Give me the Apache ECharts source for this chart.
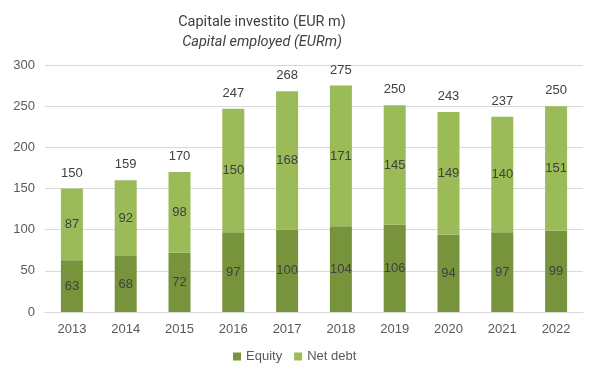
<!DOCTYPE html>
<html><head><meta charset="utf-8">
<script src="https://cdn.jsdelivr.net/npm/echarts@6/dist/echarts.min.js"></script>
<style>html,body{margin:0;padding:0;background:#fff}#c{width:598px;height:378px}</style>
</head><body><div id="c"></div>
<script>
var years = ['2013','2014','2015','2016','2017','2018','2019','2020','2021','2022'];
var equity = [63,68,72,97,100,104,106,94,97,99];
var netDebt = [87,92,98,150,168,171,145,149,140,151];
var totals = [150,159,170,247,268,275,250,243,237,250];
var yTicks = [0,50,100,150,200,250,300];

var chart = echarts.init(document.getElementById('c'), null, {renderer:'canvas'});
var txt = '#404040';
var tf = "'Liberation Sans Narrow', 'Roboto', sans-serif";
chart.setOption({
  animation:false,
  title:{
    text:'Capitale investito (EUR m)',
    subtext:'Capital employed (EURm)',
    left:257, top:10, itemGap:5, textAlign:'center',
    textStyle:{fontFamily:tf, fontSize:14.5, fontWeight:'normal', color:'#404040'},
    subtextStyle:{fontFamily:tf, fontSize:14.5, fontStyle:'italic', color:'#404040'}
  },
  legend:{
    data:['Equity','Net debt'], bottom:10, left:228,
    itemWidth:8, itemHeight:8, itemGap:12, icon:'rect',
    textStyle:{fontFamily:'Liberation Sans', fontSize:13, color:'#595959'}
  },
  grid:{left:45, right:15, top:65, bottom:66},
  xAxis:{
    type:'category', data:years,
    axisLine:{lineStyle:{color:'#d9d9d9'}}, axisTick:{show:false},
    axisLabel:{fontFamily:'Liberation Sans', fontSize:13, color:'#595959', margin:11}
  },
  yAxis:{
    type:'value', min:yTicks[0], max:yTicks[yTicks.length-1], interval:50,
    axisLine:{show:false}, axisTick:{show:false},
    splitLine:{lineStyle:{color:'#d9d9d9'}},
    axisLabel:{fontFamily:'Liberation Sans', fontSize:13, color:'#595959', margin:10}
  },
  series:[
    {name:'Equity', type:'bar', stack:'t', data:equity, barWidth:22,
     itemStyle:{color:'#77933C'},
     label:{show:true, position:'inside', fontFamily:'Liberation Sans', fontSize:13, color:txt}},
    {name:'Net debt', type:'bar', stack:'t', data:netDebt, barWidth:22,
     itemStyle:{color:'#9BBB59'},
     label:{show:true, position:'inside', fontFamily:'Liberation Sans', fontSize:13, color:txt}},
    {name:'Total', type:'bar', stack:'t', data:totals.map(function(){return 0;}), barWidth:22,
     itemStyle:{color:'transparent'},
     label:{show:true, position:'top', distance:9, fontFamily:'Liberation Sans', fontSize:13, color:txt,
       formatter:function(p){return totals[p.dataIndex];}}}
  ]
});
</script></body></html>
